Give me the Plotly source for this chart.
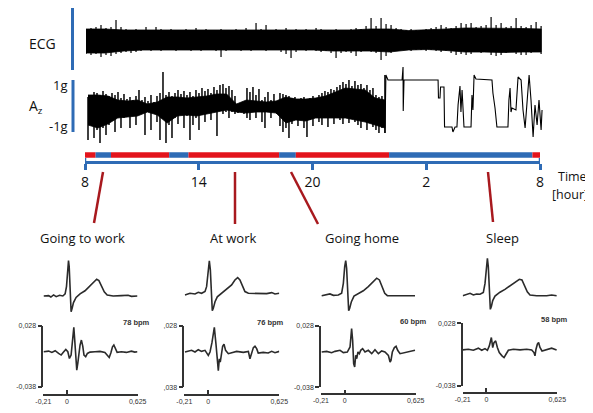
import numpy as np
import plotly.graph_objects as go

W, H = 593, 413
OFF = 8  # the page draws the figure 8 px in from the window corner

# ---------------- DATA ----------------
# 24-h ECG (mV): dense core band and the extreme excursions per sample, 8:00 -> 8:00
ecg_core_hi = [1.1, 1.1, 1.0, 1.0, 0.95, 0.95, 0.95, 0.95, 0.95, 1.0, 0.95, 0.95, 0.95, 0.95,
               1.0, 1.1, 1.1, 0.95, 1.0, 1.1, 1.2, 1.2, 1.2, 1.15, 1.1]
ecg_core_lo = [-1.3, -1.3, -1.1, -1.0, -1.0, -0.95, -0.95, -0.95, -0.95, -0.95, -0.95, -1.0,
               -1.0, -1.1, -1.1, -1.1, -1.2, -1.0, -0.95, -1.05, -1.2, -1.2, -1.25, -1.2, -1.2]
ecg_hi = [1.1, 1.2, 1.3, 1.5, 1.2, 1.3, 2.0, 1.3, 1.1, 1.0, 1.1, 1.0, 1.3, 1.0, 1.3, 1.1,
          1.0, 1.1, 1.0, 1.0, 1.1, 1.0, 1.2, 1.0, 1.1, 1.0, 1.0, 1.1, 1.0, 1.0, 1.1, 1.0,
          1.2, 1.0, 1.7, 1.1, 1.5, 1.0, 1.1, 1.0, 1.2, 1.0, 1.1, 1.0, 1.1, 1.0, 1.2, 1.1,
          1.0, 1.0, 1.1, 1.0, 1.0, 1.1, 1.2, 1.1, 1.4, 2.2, 1.4, 2.2, 1.6, 1.5, 1.2, 1.1,
          1.0, 1.1, 1.0, 1.0, 1.1, 1.2, 1.3, 1.5, 1.3, 1.2, 1.4, 1.7, 1.6, 1.7, 1.3, 1.4,
          1.5, 2.3, 1.5, 1.7, 1.3, 1.4, 2.2, 1.4, 1.3, 1.5, 1.8, 1.4]
ecg_lo = [-1.4, -1.5, -1.4, -1.7, -1.5, -1.6, -1.4, -1.3, -1.2, -1.3, -1.2, -1.1, -1.0, -1.1,
          -1.0, -1.1, -1.0, -1.0, -1.1, -1.0, -1.0, -1.1, -1.0, -1.1, -1.0, -1.0, -1.1, -1.7,
          -1.1, -1.0, -1.0, -1.1, -1.0, -1.1, -1.0, -1.0, -1.1, -1.0, -1.0, -1.2, -1.4, -1.8,
          -1.2, -1.0, -1.1, -1.0, -1.1, -1.2, -1.1, -1.3, -1.8, -1.3, -1.2, -1.3, -1.6, -1.2,
          -1.1, -1.2, -1.3, -2.0, -1.6, -1.3, -1.1, -1.0, -1.0, -1.1, -1.0, -1.0, -1.1, -1.0,
          -1.1, -1.2, -1.1, -1.3, -1.5, -1.4, -1.5, -1.4, -1.2, -1.3, -1.2, -1.5, -1.6, -1.5,
          -1.3, -1.2, -1.4, -1.5, -1.5, -1.3, -1.2, -1.4]

# Acceleration Az (g), daytime: dense core band and per-sample excursions
az_core_hi = [0.5, 0.5, 0.45, 0.25, 0.2, 0.25, 0.05, 0.15, 0.4, 0.4, 0.35, 0.4, 0.45, 0.55, 0.55,
              0.05, 0.25, 0.2, 0.15, 0.2, 0.4, 0.3, 0.3, 0.35, 0.45, 0.65, 0.85, 0.8, 0.75, 0.35,
              0.25]
az_core_lo = [-1.0, -1.15, -0.95, -0.65, -0.6, -0.55, -0.35, -0.5, -0.9, -0.55, -0.5, -0.55,
              -0.45, -0.35, -0.25, -0.35, -0.4, -0.35, -0.35, -0.4, -0.9, -0.75, -0.8, -0.65,
              -0.65, -0.65, -0.65, -0.75, -0.85, -1.0, -1.15]
az_hi = [0.40, 0.50, 0.65, 0.60, 0.50, 0.70, 0.55, 0.45, 0.60, 0.50, 0.65, 0.35, 0.55, 0.30,
         0.40, 0.25, 0.45, 0.75, 0.25, 0.40, 0.20, 0.50, 0.15, 0.45, 0.60, 1.65, 0.50, 0.65,
         0.45, 0.60, 0.75, 0.55, 0.70, 0.50, 0.65, 0.45, 0.75, 0.60, 0.85, 0.70, 0.80, 0.60,
         0.90, 0.75, 1.00, 1.05, 0.85, 0.95, 0.75, 0.45, 0.05, 0.00, 0.10, 0.85, 0.65, 0.90,
         0.50, 0.80, 0.25, 0.40, 0.65, 0.25, 0.55, 0.20, 0.60, 0.55, 0.50, 0.45, 0.35, 0.40,
         0.30, 0.35, 0.40, 0.30, 0.35, 0.45, 0.35, 0.50, 0.60, 0.70, 0.65, 0.80, 0.75, 0.90,
         1.00, 1.15, 1.05, 1.25, 0.95, 1.20, 1.00, 1.05, 0.85, 1.00, 0.75, 0.85, 0.50, 0.40,
         0.45, 1.50]
az_lo = [-1.75, -1.00, -1.65, -1.25, -1.90, -1.15, -1.50, -1.00, -0.75, -1.35, -0.50, -1.15,
         -0.65, -0.50, -1.15, -0.40, -1.00, -0.35, -0.40, -1.50, -0.35, -1.25, -0.35, -0.85,
         -1.75, -0.65, -1.90, -1.00, -1.65, -0.65, -0.95, -0.50, -1.15, -0.55, -1.75, -1.00,
         -0.65, -1.25, -0.50, -0.85, -0.35, -0.75, -0.35, -1.55, -0.25, -0.45, -0.35, -0.65,
         -0.35, -0.45, -0.40, -0.35, -0.45, -0.65, -0.75, -0.35, -0.65, -0.25, -0.85, -1.15,
         -0.35, -0.65, -0.25, -0.45, -1.05, -1.35, -1.15, -1.65, -0.95, -0.65, -1.05, -0.75,
         -1.15, -1.60, -0.75, -1.05, -0.65, -0.85, -1.00, -0.50, -1.10, -0.60, -0.95, -0.50,
         -0.75, -0.95, -0.50, -0.90, -0.55, -0.85, -1.00, -1.15, -0.75, -1.25, -0.85, -1.10,
         -1.25, -1.40, -1.15, -1.40]
# Az night part (posture steps): time in hours after 8:00, value in g
az_step_t = [15.70, 15.75, 15.86, 16.60, 16.65, 16.66, 16.70, 17.54, 18.49, 18.51, 18.59, 18.62,
             18.80, 18.83, 19.22, 19.27, 19.38, 19.48, 19.54, 19.64, 19.69, 19.75, 19.80, 19.85,
             20.22, 20.27, 20.32, 20.38, 20.48, 21.32, 21.37, 21.48, 21.58, 22.16, 22.21, 22.27,
             22.32, 22.37, 22.58, 22.69, 22.85, 22.95, 23.06, 23.16, 23.27, 23.37, 23.48, 23.58,
             23.69, 23.79, 23.90, 23.95]
az_step_g = [-1.40, 1.50, 1.25, 1.25, 1.90, -0.30, 1.25, 1.25, 1.25, 0.35, 0.35, 0.90, 0.90,
             -1.10, -1.10, -1.35, -1.10, -1.10, 0.0, 0.95, -0.35, 0.75, -0.15, -1.10, -1.10,
             0.50, -0.25, 1.50, 1.30, 1.25, 0.60, -0.15, -1.10, -1.10, 0.25, 0.85, -0.35, -0.15,
             -0.25, 1.40, 1.25, -0.25, -1.15, 0.25, 1.50, 0.25, -1.60, 0.0, -1.0, 0.25, -1.25,
             -0.25]

# activity timeline (hours after 8:00)
seg_start = [0, 0.56, 1.37, 4.44, 5.46, 10.24, 11.12, 16.04, 23.6]
seg_end = [0.56, 1.37, 4.44, 5.46, 10.24, 11.12, 16.04, 23.6, 24]
seg_state = ["red", "blue", "red", "blue", "red", "blue", "red", "blue", "red"]
time_ticks = [0, 6, 12, 18, 24]
time_labels = ["8", "14", "20", "2", "8"]

# beat templates (time s, amplitude)
titles = ["Going to work", "At work", "Going home", "Sleep"]
bpm = ["78 bpm", "76 bpm", "60 bpm", "58 bpm"]

up_t = [
    [-0.207, -0.163, -0.143, -0.119, -0.096, -0.066, -0.037, -0.017, -0.005, 0.007, 0.013, 0.019,
     0.024, 0.030, 0.036, 0.045, 0.057, 0.080, 0.115, 0.159, 0.197, 0.232, 0.262, 0.282, 0.306,
     0.329, 0.355, 0.408, 0.481, 0.540, 0.569, 0.622],
    [-0.204, -0.160, -0.116, -0.087, -0.058, -0.028, -0.014, -0.002, 0.010, 0.019, 0.027, 0.036,
     0.045, 0.060, 0.080, 0.118, 0.162, 0.206, 0.235, 0.259, 0.279, 0.303, 0.323, 0.353, 0.455,
     0.514, 0.558, 0.587, 0.625],
    [-0.204, -0.160, -0.131, -0.101, -0.057, -0.028, -0.013, -0.001, 0.008, 0.016, 0.025, 0.034,
     0.043, 0.058, 0.081, 0.119, 0.163, 0.207, 0.246, 0.281, 0.305, 0.328, 0.352, 0.375, 0.457,
     0.546, 0.619],
    [-0.210, -0.175, -0.145, -0.116, -0.087, -0.057, -0.028, -0.013, -0.001, 0.008, 0.016, 0.025,
     0.034, 0.043, 0.055, 0.075, 0.119, 0.163, 0.207, 0.252, 0.290, 0.313, 0.337, 0.360, 0.384,
     0.443, 0.531, 0.575, 0.619],
]
up_v = [
    [0, 0.01, -0.03, 0.03, -0.02, 0.02, 0, 0.06, 0.27, 0.79, 1.01, 0.84, 0.27, -0.30, -0.45, -0.35,
     -0.19, -0.04, 0.06, 0.15, 0.27, 0.40, 0.48, 0.44, 0.29, 0.12, 0.03, 0, 0.01, 0.02, -0.01, 0],
    [-0.05, 0, -0.02, 0.03, 0, 0.05, 0.19, 0.67, 0.93, 0.67, -0.10, -0.50, -0.43, -0.24, -0.10, 0,
     0.10, 0.24, 0.38, 0.45, 0.38, 0.21, 0.05, 0, 0, -0.01, 0.02, -0.02, 0],
    [0, 0.02, 0.05, 0.01, 0.02, 0.07, 0.35, 0.83, 1.0, 0.78, -0.03, -0.43, -0.36, -0.17, -0.01,
     0.07, 0.14, 0.26, 0.40, 0.50, 0.45, 0.26, 0.07, 0, 0, 0, 0],
    [0, 0.04, 0.07, 0.02, 0.05, 0.04, 0.09, 0.35, 0.83, 1.07, 0.83, -0.03, -0.39, -0.31, -0.14,
     -0.01, 0.10, 0.18, 0.28, 0.37, 0.47, 0.45, 0.30, 0.11, 0.02, 0, 0, 0.02, 0],
]
lo_t = [
    [-0.207, -0.163, -0.134, -0.105, -0.075, -0.052, -0.031, -0.011, 0.007, 0.021, 0.036, 0.051,
     0.060, 0.068, 0.077, 0.086, 0.095, 0.103, 0.115, 0.127, 0.139, 0.150, 0.165, 0.180, 0.203,
     0.247, 0.291, 0.335, 0.358, 0.373, 0.388, 0.402, 0.414, 0.429, 0.443, 0.481, 0.525, 0.569,
     0.599, 0.622],
    [-0.204, -0.175, -0.146, -0.116, -0.087, -0.058, -0.028, 0.001, 0.016, 0.033, 0.048, 0.054,
     0.068, 0.080, 0.089, 0.098, 0.106, 0.115, 0.127, 0.139, 0.153, 0.177, 0.206, 0.250, 0.309,
     0.353, 0.367, 0.382, 0.397, 0.411, 0.426, 0.440, 0.484, 0.528, 0.558, 0.587, 0.625],
    [-0.204, -0.160, -0.116, -0.087, -0.042, -0.013, 0.022, 0.046, 0.060, 0.069, 0.078, 0.087,
     0.096, 0.105, 0.116, 0.128, 0.140, 0.157, 0.178, 0.207, 0.237, 0.266, 0.296, 0.325, 0.354,
     0.384, 0.399, 0.407, 0.419, 0.437, 0.452, 0.466, 0.487, 0.531, 0.575, 0.619],
    [-0.210, -0.160, -0.116, -0.072, -0.042, -0.013, 0.008, 0.025, 0.043, 0.055, 0.066, 0.081,
     0.096, 0.113, 0.137, 0.155, 0.172, 0.193, 0.237, 0.296, 0.355, 0.399, 0.419, 0.428, 0.437,
     0.449, 0.460, 0.472, 0.490, 0.531, 0.575, 0.619],
]
lo_v = [
    [0, 0.0007, -0.0007, 0.0011, -0.0018, -0.0036, -0.0004, 0.0025, 0, -0.0073, -0.0036, 0.0127,
     0.0265, 0.0127, -0.0073, -0.0200, -0.0127, -0.0011, 0.0073, 0.0127, 0.0062, -0.0036, -0.0054,
     -0.0018, -0.0004, 0, 0.0004, -0.0007, -0.0036, -0.0062, -0.0011, 0.0054, 0.0073, 0.0025,
     -0.0007, 0, -0.0007, 0.0007, -0.0004, 0],
    [0, 0.0007, 0.0018, 0, 0.0025, 0.0007, 0.0018, -0.0036, 0, 0.0100, 0.0250, 0.0265, 0.0091,
     -0.0091, -0.0200, -0.0073, -0.0109, -0.0036, 0.0062, 0.0083, 0.0018, -0.0018, -0.0007,
     0.0007, -0.0004, 0.0007, -0.0073, 0, 0.0047, 0.0062, 0.0036, -0.0011, -0.0004, -0.0011,
     0.0007, -0.0007, 0.0007],
    [0, 0.0007, -0.0007, 0.0007, 0.0018, -0.0007, 0, 0.0054, 0.0251, 0.0126, -0.0126, -0.0162,
     -0.0036, -0.0072, 0, -0.0018, 0.0018, 0.0036, 0, 0.0018, -0.0018, 0.0025, -0.0018, 0.0011,
     0, -0.0036, -0.0108, -0.0090, 0, 0.0047, 0.0061, 0.0018, -0.0018, -0.0007, 0.0011, 0.0018],
    [0, 0.0007, -0.0004, 0.0018, -0.0004, 0.0014, -0.0004, 0.0042, 0.0130, 0.0025, 0.0077,
     0.0095, 0.0025, -0.0028, -0.0063, -0.0081, -0.0046, -0.0004, 0.0007, 0, 0.0007, 0, -0.0028,
     -0.0063, 0.0007, 0.0060, 0.0077, 0.0025, -0.0011, 0, 0.0018, 0],
]
lo_y_ticktext = [["-0,038", "0,028"], [",038", ",028"], ["-0,038", "0,028"], ["-0,038", "0,028"]]

# ---------------- LAYOUT GEOMETRY (window pixels) ----------------
def PX(px):
    return (px - OFF) / W

def PY(py):
    return 1 - (py - OFF) / H

def xd(a, b):
    return [PX(a), PX(b)]

def yd(top, bot):
    return [PY(bot), PY(top)]

RED = "#E3141C"
BLUE = "#2E6BB5"
DRED = "#A8191E"
INK = "#111111"
FONT = "Open Sans, Lato, sans-serif"
SMALL = "Liberation Sans Narrow, Liberation Sans, Arial, sans-serif"

fig = go.Figure()
layout = dict(width=W, height=H, margin=dict(l=0, r=0, t=0, b=0, autoexpand=False),
              paper_bgcolor="white", plot_bgcolor="rgba(0,0,0,0)", showlegend=False)

def hidden_axis(dom, rng, anchor):
    return dict(domain=dom, range=rng, visible=False, anchor=anchor, fixedrange=True,
                automargin=False)

def band(t, hi, lo, xa, ya):
    fig.add_trace(go.Scatter(x=list(t) + list(t[::-1]), y=list(hi) + list(lo[::-1]),
                             fill="toself", fillcolor="black", mode="lines",
                             line=dict(color="black", width=0.8), xaxis=xa, yaxis=ya,
                             hoverinfo="skip"))

def spikes(t, hi, lo, xa, ya, width):
    sx, sy = [], []
    for tt, h, l in zip(t, hi, lo):
        sx += [tt, tt, None]
        sy += [h, l, None]
    fig.add_trace(go.Scatter(x=sx, y=sy, mode="lines", line=dict(color="black", width=width),
                             xaxis=xa, yaxis=ya, hoverinfo="skip"))

# ECG
ecg_t = np.linspace(0, 23.9, len(ecg_hi))
ecg_ct = np.linspace(0, 23.9, len(ecg_core_hi))
band(ecg_ct, ecg_core_hi, ecg_core_lo, "x", "y")
spikes(ecg_t, ecg_hi, ecg_lo, "x", "y", 1.2)
layout["xaxis"] = hidden_axis(xd(86, 543), [0, 24], "y")
layout["yaxis"] = hidden_axis(yd(10, 70), [-3, 3], "x")

# Az
az_t = np.linspace(0.105, 15.70, len(az_hi))
az_ct = np.linspace(0.105, 15.70, len(az_core_hi))
band(az_ct, az_core_hi, az_core_lo, "x2", "y2")
spikes(az_t, az_hi, az_lo, "x2", "y2", 1.5)
fig.add_trace(go.Scatter(x=az_step_t, y=az_step_g, mode="lines",
                         line=dict(color="black", width=1.1), xaxis="x2", yaxis="y2",
                         hoverinfo="skip"))
layout["xaxis2"] = hidden_axis(xd(86, 543), [0, 24], "y2")
layout["yaxis2"] = hidden_axis(yd(65, 150), [-2.25, 2.0], "x2")

# timeline
for s, e, c in zip(seg_start, seg_end, seg_state):
    fig.add_trace(go.Scatter(x=[s, e], y=[0.41, 0.41], mode="lines",
                             line=dict(color=RED if c == "red" else BLUE, width=5.5),
                             xaxis="x3", yaxis="y3", hoverinfo="skip"))
layout["xaxis3"] = dict(domain=xd(85, 540), range=[0, 24], anchor="y3", fixedrange=True,
                        automargin=False,
                        tickvals=time_ticks, ticktext=time_labels, ticks="outside", ticklen=6,
                        tickwidth=2.5, tickcolor=BLUE, showline=True, linecolor=BLUE,
                        linewidth=2.5, showgrid=False, zeroline=False,
                        tickfont=dict(family=FONT, size=14, color=INK))
layout["yaxis3"] = hidden_axis(yd(146, 161.3), [0, 1], "x3")

shapes = []
for tv in [time_ticks[0], time_ticks[-1]]:
    shapes.append(dict(type="line", xref="x3", yref="paper", x0=tv, x1=tv,
                       y0=PY(158), y1=PY(162), line=dict(color=BLUE, width=2.5)))
shapes.append(dict(type="line", xref="paper", yref="paper", x0=PX(72.5), x1=PX(72.5),
                   y0=PY(5), y1=PY(70), line=dict(color=BLUE, width=3)))
shapes.append(dict(type="line", xref="paper", yref="paper", x0=PX(73), x1=PX(73),
                   y0=PY(80), y1=PY(132), line=dict(color=BLUE, width=3)))
for (a, b, c, d) in [(103, 172, 94, 223), (235, 172, 235, 224), (291, 172, 318, 224),
                     (488, 172, 493, 222)]:
    shapes.append(dict(type="line", xref="paper", yref="paper", x0=PX(a), y0=PY(b),
                       x1=PX(c), y1=PY(d), line=dict(color=DRED, width=2.5)))

ann = []
def text(px, py, s, size=14, xanchor="center", family=FONT, color=INK, bold=False):
    ann.append(dict(x=PX(px), y=PY(py), xref="paper", yref="paper",
                    text=("<b>%s</b>" % s) if bold else s,
                    showarrow=False, xanchor=xanchor, yanchor="middle",
                    font=dict(family=family, size=size, color=color)))

text(42, 43, "ECG", 14)
text(36, 106, "A<sub>z</sub>", 14)
text(70, 85, "1g", 13, xanchor="right")
text(70, 126, "-1g", 13, xanchor="right")
text(556, 176, "Time", 12.5, xanchor="left")
text(590, 194, "[hour]", 12.5, xanchor="right")

lower_box = [(43.3, 137.7, 326, 386.7, 395), (184.3, 279.3, 326, 387.3, 395),
             (321, 415.7, 326, 387.3, 394.3), (462.7, 557.3, 323.3, 386, 392.7)]
upper_base = [296, 293.3, 295.7, 295.7]
title_x = [82, 233, 362, 502]
bpm_pos = [(136, 322), (270, 322), (413, 321), (554, 319)]

for i in range(4):
    x0, x1, yt, yb, xline = lower_box[i]
    ua, la = 4 + i, 8 + i
    b = upper_base[i]
    fig.add_trace(go.Scatter(x=up_t[i], y=up_v[i], mode="lines",
                             line=dict(color="#2b2b2b", width=1.6),
                             xaxis="x%d" % ua, yaxis="y%d" % ua, hoverinfo="skip"))
    layout["xaxis%d" % ua] = hidden_axis(xd(x0, x1), [-0.21, 0.625], "y%d" % ua)
    layout["yaxis%d" % ua] = hidden_axis(yd(b - 42, b + 21), [-0.6, 1.2], "x%d" % ua)

    fig.add_trace(go.Scatter(x=lo_t[i], y=lo_v[i], mode="lines",
                             line=dict(color="#2b2b2b", width=1.6), cliponaxis=False,
                             xaxis="x%d" % la, yaxis="y%d" % la, hoverinfo="skip"))
    layout["xaxis%d" % la] = dict(domain=xd(x0, x1), range=[-0.21, 0.625], anchor="free",
                                  position=PY(xline), fixedrange=True, automargin=False,
                                  tickvals=[-0.21, 0, 0.625], ticktext=["-0,21", "0", "0,625"],
                                  ticks="inside", ticklen=4, tickwidth=1.5, tickcolor="#333",
                                  showline=True, linecolor="#333", linewidth=1.5,
                                  showgrid=False, zeroline=False,
                                  tickfont=dict(family=SMALL, size=7, color="#333"))
    layout["yaxis%d" % la] = dict(domain=yd(yt, yb), range=[-0.038, 0.028], anchor="x%d" % la,
                                  fixedrange=True, automargin=False, tickvals=[-0.038, 0.028],
                                  ticktext=lo_y_ticktext[i], ticks="outside", ticklen=4,
                                  tickwidth=1.5, tickcolor="#333", showline=True,
                                  linecolor="#333", linewidth=1.5, showgrid=False,
                                  zeroline=False,
                                  tickfont=dict(family=SMALL, size=7, color="#333"))
    text(title_x[i], 238, titles[i], 13)
    text(bpm_pos[i][0], bpm_pos[i][1], bpm[i], 7.5, family=SMALL, color="#333", bold=True)

layout["shapes"] = shapes
layout["annotations"] = ann
fig.update_layout(**layout)
fig.write_html("out.html")
